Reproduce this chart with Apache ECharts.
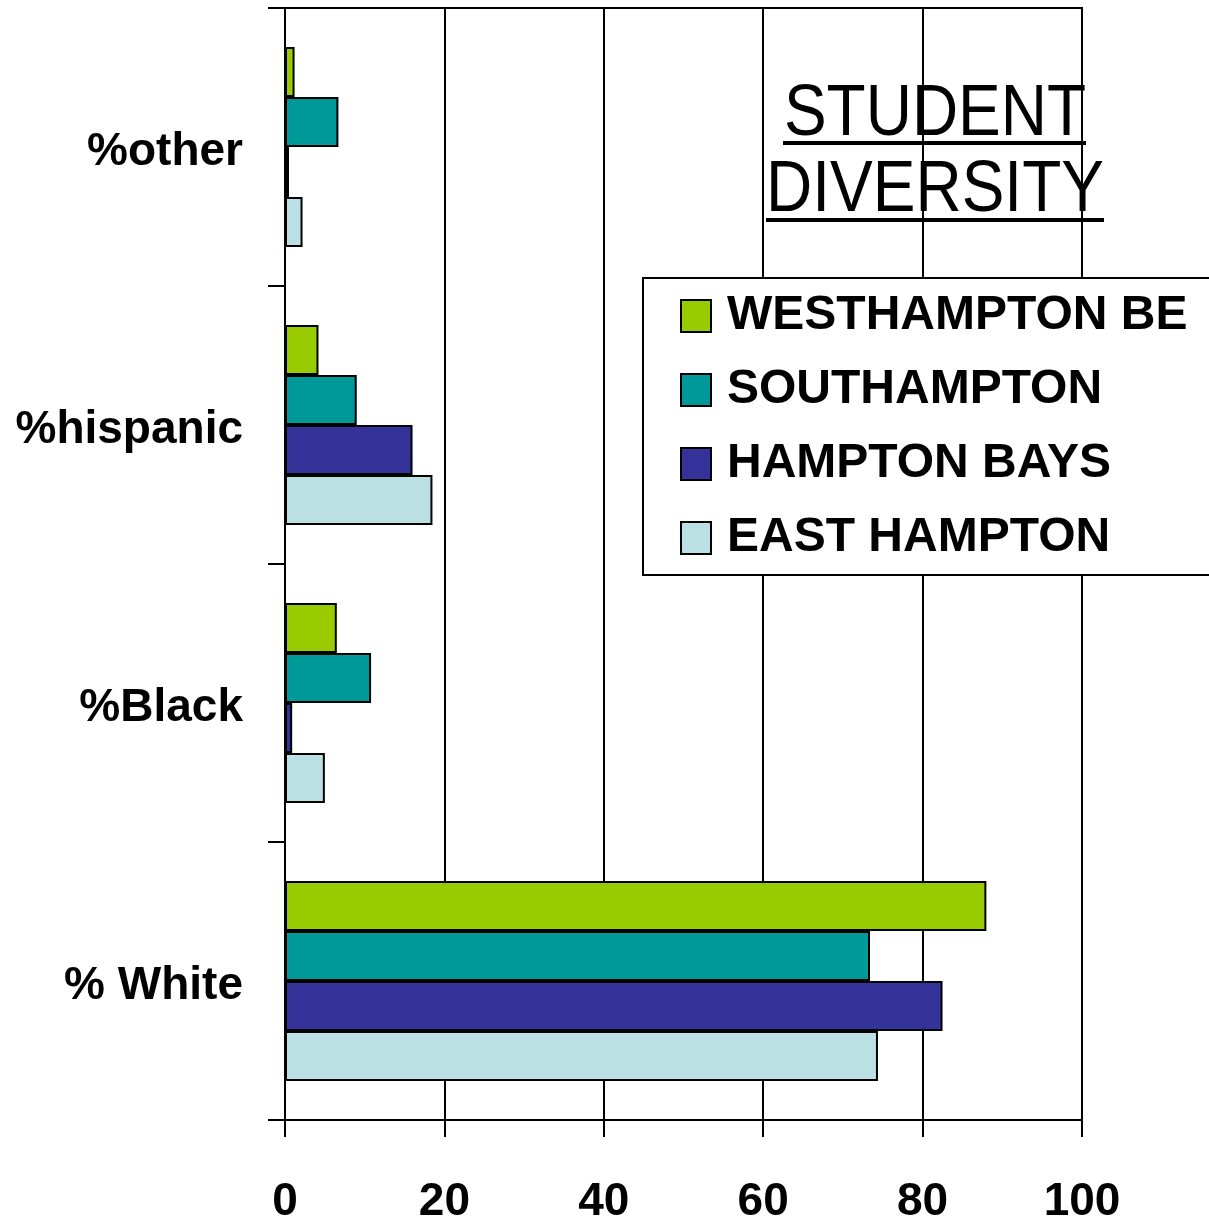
<!DOCTYPE html>
<html>
<head>
<meta charset="utf-8">
<script src="https://cdn.jsdelivr.net/npm/echarts@6/dist/echarts.min.js"></script>
<style>
  html, body { margin: 0; padding: 0; background: #fff; }
  #chart { width: 1209px; height: 1225px; }
</style>
</head>
<body>
<div id="chart"></div>
<script>
// categories top to bottom
const categories = ["%other", "%hispanic", "%Black", "% White"];
const schools = ["WESTHAMPTON BE", "SOUTHAMPTON", "HAMPTON BAYS", "EAST HAMPTON"];
const westhampton = [1.2, 4.2, 6.5, 88.0];
const southampton = [6.7, 9.0, 10.8, 73.4];
const hamptonBays = [0.5, 16.0, 0.9, 82.5];
const eastHampton = [2.2, 18.5, 5.0, 74.4];
const xTicks = [0, 20, 40, 60, 80, 100];

const colors = ["#99cc00", "#009999", "#333399", "#bbe0e3"];
const font = "'Liberation Sans', Arial, sans-serif";

const chart = echarts.init(document.getElementById("chart"));

function bar(name, data, color) {
  return {
    name: name,
    type: "bar",
    data: data,
    barGap: "0%",
    barCategoryGap: "28%",
    itemStyle: { color: color, borderColor: "#000", borderWidth: 2 },
    animation: false,
  };
}

chart.setOption({
  backgroundColor: "#fff",
  grid: {
    left: 285,
    right: 127,
    top: 8,
    bottom: 104,
    show: true,
    borderColor: "#000",
    borderWidth: 2,
  },
  legend: {
    orient: "vertical",
    left: 643,
    top: 278,
    data: schools,
    icon: "rect",
    itemWidth: 30,
    itemHeight: 32,
    itemGap: 24,
    padding: [13, 80, 12, 37],
    borderColor: "#000",
    borderWidth: 2,
    backgroundColor: "#fff",
    textStyle: {
      fontFamily: font,
      fontWeight: "bold",
      fontSize: 48,
      lineHeight: 44,
      color: "#000",
      padding: [6, 0, 0, 11],
    },
  },
  xAxis: {
    type: "value",
    min: xTicks[0],
    max: xTicks[xTicks.length - 1],
    interval: 20,
    axisLine: { show: true, lineStyle: { color: "#000", width: 2 } },
    axisTick: { show: true, length: 17, lineStyle: { color: "#000", width: 2 } },
    splitLine: { show: true, lineStyle: { color: "#000", width: 2 } },
    axisLabel: {
      fontFamily: font,
      fontWeight: "bold",
      fontSize: 46,
      color: "#000",
      margin: 59,
    },
  },
  yAxis: {
    type: "category",
    data: categories,
    inverse: true,
    axisLine: { show: true, lineStyle: { color: "#000", width: 2 } },
    axisTick: { show: true, length: 17, lineStyle: { color: "#000", width: 2 } },
    axisLabel: {
      margin: 42,
      formatter: function (v) { return "{c|" + v + "}"; },
      rich: {
        c: {
          fontFamily: font,
          fontWeight: "bold",
          fontSize: 46,
          color: "#000",
          padding: [10, 0, 0, 0],
        },
      },
    },
  },
  graphic: [
    {
      type: "text",
      x: 935, y: 115, scaleY: 1.13,
      style: { text: "STUDENT", x: 0, y: 0, fill: "#000", font: "64px " + font, textAlign: "center", textVerticalAlign: "middle" },
      z: 100,
    },
    {
      type: "text",
      x: 935, y: 191, scaleY: 1.13,
      style: { text: "DIVERSITY", x: 0, y: 0, fill: "#000", font: "64px " + font, textAlign: "center", textVerticalAlign: "middle" },
      z: 100,
    },
    {
      type: "line",
      shape: { x1: 783, y1: 143, x2: 1086, y2: 143 },
      style: { stroke: "#000", lineWidth: 4 },
      z: 100,
    },
    {
      type: "line",
      shape: { x1: 766, y1: 220, x2: 1104, y2: 220 },
      style: { stroke: "#000", lineWidth: 4 },
      z: 100,
    },
  ],
  series: [
    bar(schools[0], westhampton, colors[0]),
    bar(schools[1], southampton, colors[1]),
    bar(schools[2], hamptonBays, colors[2]),
    bar(schools[3], eastHampton, colors[3]),
  ],
});
</script>
</body>
</html>
